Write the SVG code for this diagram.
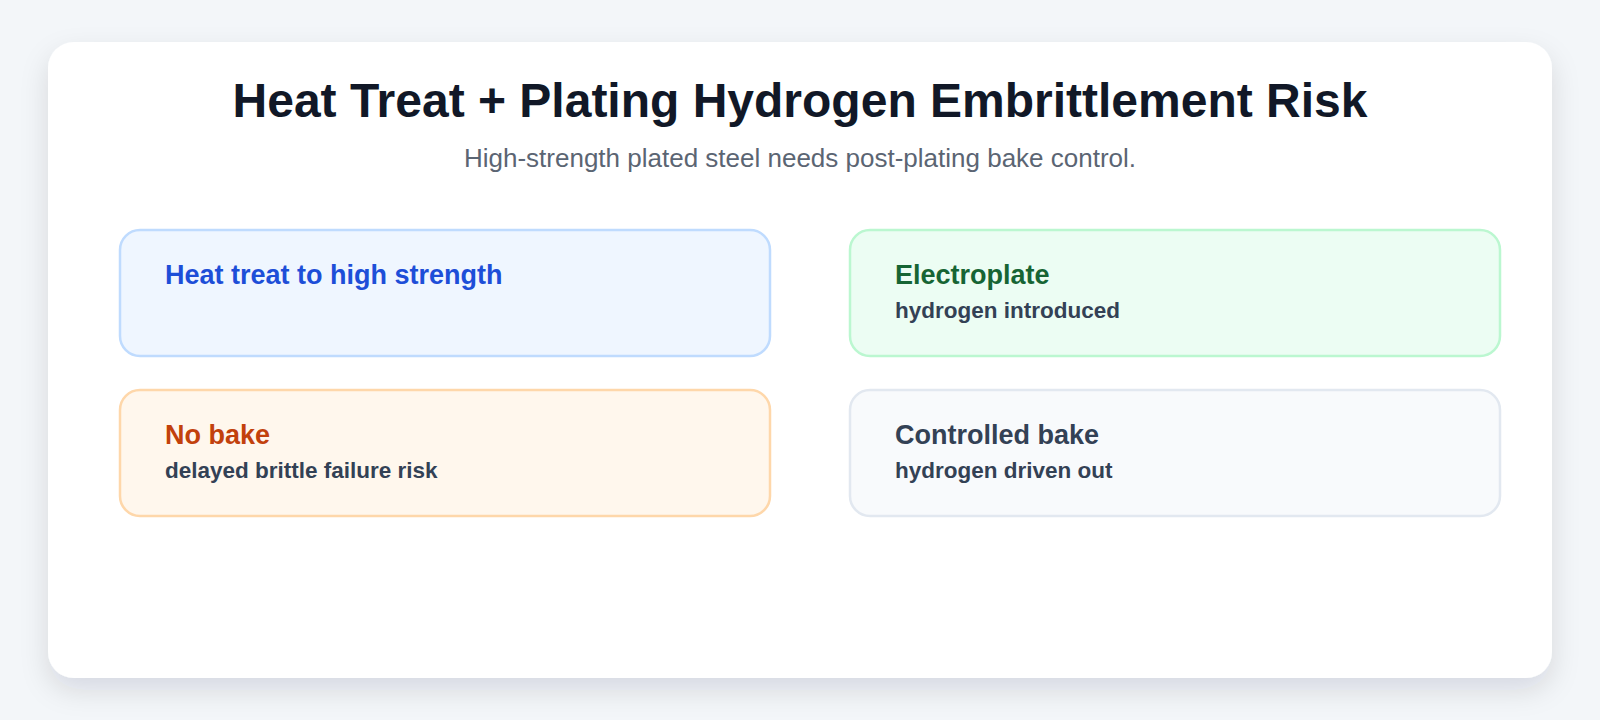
<svg xmlns="http://www.w3.org/2000/svg" width="1600" height="720" viewBox="0 0 1600 720">
<defs>
<filter id="sh" x="-10%" y="-10%" width="120%" height="130%">
<feDropShadow dx="0" dy="12" stdDeviation="14" flood-color="#0f172a" flood-opacity="0.12"/>
</filter>
<style>
.t{font-family:"Liberation Sans",Arial,sans-serif;font-weight:bold;}
.h{font-size:27px;}
.s{font-size:22.5px;fill:#334155;}
.box{stroke-width:2.5;}
</style>
</defs>
<rect width="1600" height="720" fill="#f3f6f9"/>
<rect x="48" y="42" width="1504" height="636" rx="26" fill="#ffffff" filter="url(#sh)"/>
<text x="800" y="117" text-anchor="middle" class="t" font-size="48" fill="#111827">Heat Treat + Plating Hydrogen Embrittlement Risk</text>
<text x="800" y="167" text-anchor="middle" font-family="Liberation Sans,Arial,sans-serif" font-size="26" fill="#5b6573">High-strength plated steel needs post-plating bake control.</text>
<g id="connectors"></g>
<g id="node-heat">
<rect class="box" x="120" y="230" width="650" height="126" rx="20" fill="#eff6ff" stroke="#bfdbfe"/>
<text class="t h" x="165" y="284" fill="#1d4ed8">Heat treat to high strength</text>
</g>
<g id="node-plate">
<rect class="box" x="850" y="230" width="650" height="126" rx="20" fill="#ecfdf3" stroke="#bbf7d0"/>
<text class="t h" x="895" y="284" fill="#166534">Electroplate</text>
<text class="t s" x="895" y="318">hydrogen introduced</text>
</g>
<g id="node-nobake">
<rect class="box" x="120" y="390" width="650" height="126" rx="20" fill="#fff7ed" stroke="#fed7aa"/>
<text class="t h" x="165" y="444" fill="#c2410c">No bake</text>
<text class="t s" x="165" y="478">delayed brittle failure risk</text>
</g>
<g id="node-bake">
<rect class="box" x="850" y="390" width="650" height="126" rx="20" fill="#f8fafc" stroke="#e2e8f0"/>
<text class="t h" x="895" y="444" fill="#334155">Controlled bake</text>
<text class="t s" x="895" y="478">hydrogen driven out</text>
</g>
</svg>
